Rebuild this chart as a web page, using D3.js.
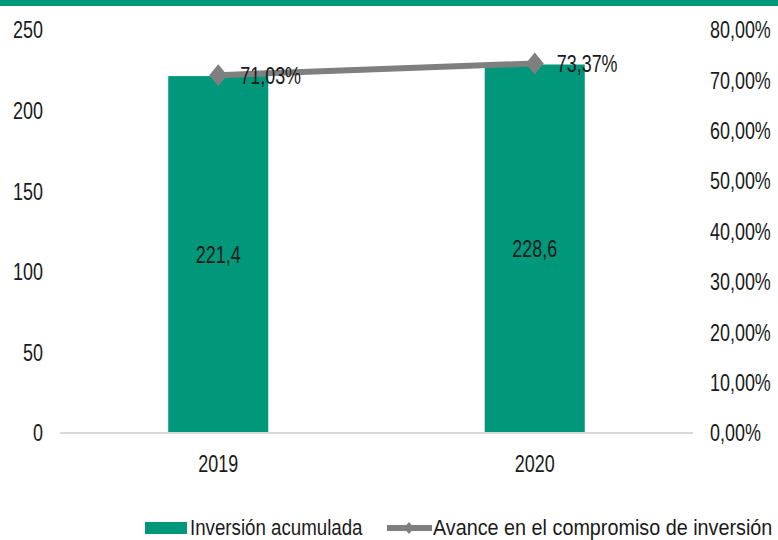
<!DOCTYPE html>
<html>
<head>
<meta charset="utf-8">
<script src="https://cdn.jsdelivr.net/npm/d3@7"></script>
<style>
  html, body { margin: 0; padding: 0; background: #fff; }
  svg { display: block; }
  text { font-family: "Liberation Sans", Arial, sans-serif; fill: #1a1a1a; }
</style>
</head>
<body>
<svg id="chart" width="778" height="540"></svg>
<script>
const categories = ["2019", "2020"];
const inversion = [221.4, 228.6];
const inversionLabels = ["221,4", "228,6"];
const avance = [0.7103, 0.7337];
const avanceLabels = ["71,03%", "73,37%"];
const leftTicks = [0, 50, 100, 150, 200, 250];
const rightTicks = [0, 0.1, 0.2, 0.3, 0.4, 0.5, 0.6, 0.7, 0.8];
const legendLabels = ["Inversión acumulada", "Avance en el compromiso de inversión"];

const green = "#00977a";
const gray = "#7f7f7f";
const fontSize = 23;
const sx = 0.78;

const svg = d3.select("#chart");
const W = 778, H = 540;
const plot = { left: 60, right: 693, top: 30, bottom: 433 };

svg.append("rect").attr("x", 0).attr("y", 0).attr("width", W).attr("height", 6).attr("fill", green);

const x = d3.scaleBand().domain(categories).range([plot.left, plot.right]).padding(0);
const y = d3.scaleLinear().domain([0, 250]).range([plot.bottom, plot.top]);
const y2 = d3.scaleLinear().domain([0, 0.8]).range([plot.bottom, plot.top]);
const barW = x.bandwidth() * 0.316;
const cx = d => x(d) + x.bandwidth() / 2;

function txt(g, px, py, s, anchor, scaleX, size) {
  return g.append("text")
    .attr("transform", `translate(${px},${py}) scale(${scaleX || sx},1)`)
    .attr("text-anchor", anchor || "middle")
    .attr("dominant-baseline", "central")
    .attr("font-size", size || fontSize)
    .text(s);
}

// left axis labels
const fmtL = d3.format("d");
const gl = svg.append("g");
leftTicks.forEach(t => txt(gl, 43, y(t), fmtL(t), "end"));

// right axis labels
const gr = svg.append("g");
rightTicks.forEach(t => txt(gr, 710, y2(t), (t * 100).toFixed(2).replace(".", ",") + "%", "start"));

// bars
svg.append("g").selectAll("rect").data(categories).join("rect")
  .attr("x", d => cx(d) - barW / 2)
  .attr("y", (d, i) => y(inversion[i]))
  .attr("width", barW)
  .attr("height", (d, i) => y(0) - y(inversion[i]))
  .attr("fill", green);

// baseline
svg.append("line")
  .attr("x1", plot.left).attr("x2", plot.right)
  .attr("y1", y(0)).attr("y2", y(0))
  .attr("stroke", "#d9d9d9").attr("stroke-width", 2);

// bar labels
const gb = svg.append("g");
categories.forEach((c, i) => txt(gb, cx(c), (y(0) + y(inversion[i])) / 2, inversionLabels[i]));

// category labels
const gc = svg.append("g");
categories.forEach(c => txt(gc, cx(c), 464, c));

// line
const line = d3.line().x((d, i) => cx(categories[i])).y(d => y2(d));
svg.append("path").datum(avance)
  .attr("d", line)
  .attr("fill", "none")
  .attr("stroke", gray)
  .attr("stroke-width", 6);

const diamond = (px, py, hw, hh) => `M${px},${py - hh}L${px + hw},${py}L${px},${py + hh}L${px - hw},${py}Z`;
svg.append("g").selectAll("path").data(avance).join("path")
  .attr("d", (d, i) => diamond(cx(categories[i]), y2(d), 9, 11))
  .attr("fill", gray);

// line labels
const gll = svg.append("g");
avance.forEach((v, i) => txt(gll, cx(categories[i]) + 22, y2(v), avanceLabels[i], "start"));

// legend
const lg = svg.append("g");
lg.append("rect").attr("x", 145).attr("y", 522).attr("width", 42).attr("height", 12).attr("fill", green);
txt(lg, 190, 527, legendLabels[0], "start", 0.85, 22);
lg.append("line").attr("x1", 387).attr("x2", 432).attr("y1", 528).attr("y2", 528)
  .attr("stroke", gray).attr("stroke-width", 6);
lg.append("path").attr("d", diamond(409, 528, 5, 6)).attr("fill", gray);
txt(lg, 433, 527, legendLabels[1], "start", 0.9, 22);
</script>
</body>
</html>
